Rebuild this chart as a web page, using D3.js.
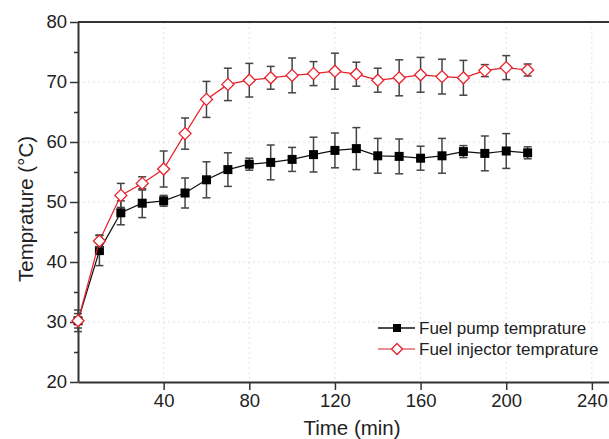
<!DOCTYPE html>
<html><head><meta charset="utf-8">
<script src="https://cdn.jsdelivr.net/npm/d3@7"></script>
<style>body{margin:0;background:#fff;} svg{display:block;font-family:"Liberation Sans",Arial,sans-serif;}</style>
</head><body><svg id="c" width="609" height="439"></svg>
<script>
const times = [0,10,20,30,40,50,60,70,80,90,100,110,120,130,140,150,160,170,180,190,200,210];
const pumpTemp = [30.2,41.9,48.2,49.8,50.2,51.5,53.7,55.4,56.3,56.6,57.1,57.9,58.6,58.9,57.7,57.6,57.3,57.7,58.4,58.1,58.5,58.2];
const pumpErr  = [1.8,2.5,2.0,2.4,0.9,2.5,3.0,2.8,1.0,2.9,2.0,2.9,2.9,3.5,2.9,2.9,2.0,2.9,1.0,2.9,2.9,1.0];
const injTemp  = [30.2,43.5,51.1,53.1,55.5,61.4,67.1,69.6,70.3,70.7,71.1,71.4,71.8,71.3,70.3,70.7,71.2,70.9,70.7,71.9,72.4,72.0];
const injErr   = [1.2,1.0,2.0,1.1,3.0,2.6,3.0,2.7,2.8,1.9,2.9,2.0,3.0,2.0,2.0,3.0,2.9,2.9,2.9,1.0,2.0,1.0];
const xTicks = [40,80,120,160,200,240];
const yTicks = [20,30,40,50,60,70,80];
const seriesNames = ["Fuel pump temprature","Fuel injector temprature"];

const svg = d3.select("#c");
const x = d3.scaleLinear().domain([0,248]).range([78,609]);
const y = d3.scaleLinear().domain([20,80]).range([382,22]);

// grid
const g = svg.append("g");
g.selectAll(".gx").data(xTicks).enter().append("line")
  .attr("x1",d=>x(d)).attr("x2",d=>x(d)).attr("y1",22).attr("y2",382)
  .attr("stroke","#e2e2e2").attr("stroke-width",1).attr("stroke-dasharray","2,3");
g.selectAll(".gy").data(yTicks.filter(d=>d>20&&d<80)).enter().append("line")
  .attr("x1",78).attr("x2",609).attr("y1",d=>y(d)).attr("y2",d=>y(d))
  .attr("stroke","#e2e2e2").attr("stroke-width",1).attr("stroke-dasharray","2,3");

// axes
const xAxis = d3.axisBottom(x).tickValues(xTicks).tickSize(8).tickPadding(4).tickSizeOuter(0);
const gx = svg.append("g").attr("transform","translate(0,382)").call(xAxis);
const yAxis = d3.axisLeft(y).tickValues(yTicks).tickSize(8).tickPadding(3).tickSizeOuter(0);
const gy = svg.append("g").attr("transform","translate(78,0)").call(yAxis);
const yMinor = d3.axisLeft(y).tickValues([25,35,45,55,65,75]).tickSize(4).tickFormat("").tickSizeOuter(0);
svg.append("g").attr("transform","translate(78,0)").call(yMinor).select(".domain").remove();
[gx,gy].forEach(a=>{
  a.select(".domain").attr("stroke","#333").attr("stroke-width",2);
  a.selectAll(".tick text").attr("font-size",18.5).attr("fill","#222").attr("font-family","Liberation Sans, Arial, sans-serif");
});
svg.selectAll(".tick line").attr("stroke","#333").attr("stroke-width",1.5);
// top frame
svg.append("line").attr("x1",x(0)).attr("x2",609).attr("y1",y(80)).attr("y2",y(80)).attr("stroke","#333").attr("stroke-width",2);

// labels
svg.append("text").attr("x",352).attr("y",435).attr("text-anchor","middle")
  .attr("font-size",20.5).attr("fill","#222").text("Time (min)");
svg.append("text").attr("transform","translate(33,"+(y(50)+7)+") rotate(-90)").attr("text-anchor","middle")
  .attr("font-size",20.5).attr("fill","#222").text("Temprature (°C)");

function drawSeries(vals, errs, color, kind){
  const pts = times.map((t,i)=>({t, v:vals[i], e:errs[i]}));
  const line = d3.line().x(d=>x(d.t)).y(d=>y(d.v));
  svg.append("path").datum(pts).attr("d",line).attr("fill","none").attr("stroke",color).attr("stroke-width",1.2);
  const eb = svg.append("g").attr("stroke","#444").attr("stroke-width",1.5);
  pts.forEach(d=>{
    eb.append("line").attr("x1",x(d.t)).attr("x2",x(d.t)).attr("y1",y(d.v+d.e)).attr("y2",y(d.v-d.e));
    eb.append("line").attr("x1",x(d.t)-4).attr("x2",x(d.t)+4).attr("y1",y(d.v+d.e)).attr("y2",y(d.v+d.e));
    eb.append("line").attr("x1",x(d.t)-4).attr("x2",x(d.t)+4).attr("y1",y(d.v-d.e)).attr("y2",y(d.v-d.e));
  });
  drawMarkers(svg, pts.map(d=>[x(d.t),y(d.v)]), kind);
}
function drawMarkers(sel, xy, kind){
  xy.forEach(([px,py])=>{
    if(kind==="square"){
      sel.append("rect").attr("x",px-4.5).attr("y",py-4.5).attr("width",9).attr("height",9).attr("fill","#000");
    } else {
      sel.append("path").attr("d",`M${px},${py-6}L${px+6},${py}L${px},${py+6}L${px-6},${py}Z`)
        .attr("fill","#fff").attr("stroke","#e8202a").attr("stroke-width",1.3);
    }
  });
}
drawSeries(pumpTemp, pumpErr, "#111", "square");
drawSeries(injTemp, injErr, "#e8202a", "diamond");

// legend
const lg = svg.append("g");
const rows = [{name:seriesNames[0],color:"#111",kind:"square",yy:328},{name:seriesNames[1],color:"#e8696e",kind:"diamond",yy:349}];
rows.forEach(r=>{
  lg.append("line").attr("x1",378).attr("x2",415).attr("y1",r.yy).attr("y2",r.yy).attr("stroke",r.color).attr("stroke-width",1.3);
  if(r.kind==="square") lg.append("rect").attr("x",393).attr("y",r.yy-4).attr("width",8).attr("height",8).attr("fill","#000");
  else lg.append("path").attr("d",`M397,${r.yy-5.5}L402.5,${r.yy}L397,${r.yy+5.5}L391.5,${r.yy}Z`).attr("fill","#fff").attr("stroke","#e8202a").attr("stroke-width",1.3);
  lg.append("text").attr("x",419).attr("y",r.yy+6).attr("font-size",17).attr("fill","#222").text(r.name);
});
</script></body></html>
